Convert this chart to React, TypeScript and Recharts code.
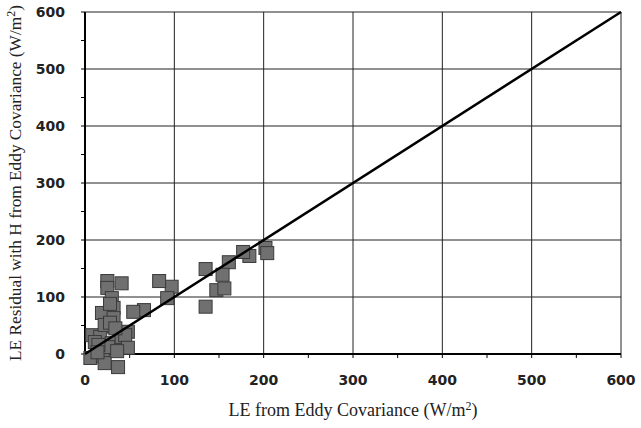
import React from "react";
import { ScatterChart, Scatter, XAxis, YAxis, CartesianGrid } from "recharts";

const leEddy = [202, 204, 184, 177, 161, 154, 147, 156, 135, 135, 97, 92, 83, 66, 54, 41, 25, 25, 30, 32, 19, 32, 24, 8, 17, 48, 43, 30, 6, 20, 22, 37, 11, 26, 41, 22, 28, 45, 15, 48, 34, 28, 36, 14];
const leResidual = [186, 177, 172, 179, 161, 139, 112, 115, 149, 83, 118, 98, 128, 77, 74, 124, 128, 116, 98, 81, 72, 63, 48, 33, 30, 39, 19, 19, -7, -4, -16, -23, 21, 12, 30, 51, 55, 33, 16, 11, 45, 88, 5, 3];
const oneToOneX = [0, 600];
const oneToOneY = [0, 600];
const axisTicks = [0, 50, 100, 150, 200, 250, 300, 350, 400, 450, 500, 550, 600];
const gridValues = [100, 200, 300, 400, 500, 600];

const points = leEddy.map((x, i) => ({ x, y: leResidual[i] }));
const linePts = oneToOneX.map((x, i) => ({ x, y: oneToOneY[i] }));

const tickFont = { fontFamily: "DejaVu Sans", fontWeight: 700, fontSize: 14, fill: "#222" };
const labelFont = { fontFamily: "Liberation Serif", fontSize: 18, fill: "#222" };

const XTick = (props: any) => {
  const { x, y, payload } = props;
  if (payload.value % 100 !== 0) return null;
  return (
    <text x={x} y={y} dy="0.71em" textAnchor="middle" {...tickFont}>
      {payload.value}
    </text>
  );
};

const YTick = (props: any) => {
  const { x, y, payload } = props;
  if (payload.value % 100 !== 0) return null;
  return (
    <text x={x} y={y} dy="0.36em" textAnchor="end" {...tickFont}>
      {payload.value}
    </text>
  );
};

const Square = (props: any) => {
  const { cx, cy } = props;
  if (cx == null || cy == null) return null;
  return <rect x={cx - 6.5} y={cy - 6.5} width={13} height={13} fill="#707070" stroke="#3a3a3a" strokeWidth={1} />;
};

const XLabel = (props: any) => {
  const vb = props.viewBox || {};
  return (
    <text x={vb.x + vb.width / 2} y={vb.y + 62} textAnchor="middle" {...labelFont}>
      LE from Eddy Covariance (W/m
      <tspan dy={-6} fontSize={12}>2</tspan>
      <tspan dy={6}>)</tspan>
    </text>
  );
};

const YLabel = (props: any) => {
  const vb = props.viewBox || {};
  const cx = vb.x + 21;
  const cy = vb.y + vb.height / 2;
  return (
    <text x={cx} y={cy} textAnchor="middle" transform={`rotate(-90 ${cx} ${cy})`} {...labelFont} fontSize={17.3}>
      LE Residual with H from Eddy Covariance (W/m
      <tspan dy={-6} fontSize={12}>2</tspan>
      <tspan dy={6}>)</tspan>
    </text>
  );
};

export default function App() {
  return (
    <div style={{ position: "absolute", left: 0, top: 0, width: 641, height: 428, background: "#fff" }}>
      <style>{`.recharts-scatter{clip-path:none !important;}`}</style>
      <ScatterChart width={641} height={428} margin={{ top: 12, right: 20, bottom: 0, left: 0 }}>
        <CartesianGrid stroke="#222" strokeWidth={1} horizontalValues={gridValues} verticalValues={gridValues} />
        <XAxis
          type="number"
          dataKey="x"
          domain={[0, 600]}
          ticks={axisTicks}
          interval={0}
          allowDataOverflow
          height={74}
          axisLine={{ stroke: "#000", strokeWidth: 2 }}
          tickLine={{ stroke: "#000" }}
          tickSize={4}
          tickMargin={17}
          tick={<XTick />}
          label={<XLabel />}
        />
        <YAxis
          type="number"
          dataKey="y"
          domain={[0, 600]}
          ticks={axisTicks}
          interval={0}
          allowDataOverflow
          width={85}
          axisLine={{ stroke: "#000", strokeWidth: 2 }}
          tickLine={{ stroke: "#000" }}
          tickSize={4}
          tickMargin={16}
          tick={<YTick />}
          label={<YLabel />}
        />
        <Scatter data={points} shape={<Square />} isAnimationActive={false} />
        <Scatter
          data={linePts}
          line={{ stroke: "#000", strokeWidth: 2.5 }}
          shape={() => null}
          isAnimationActive={false}
        />
      </ScatterChart>
    </div>
  );
}
